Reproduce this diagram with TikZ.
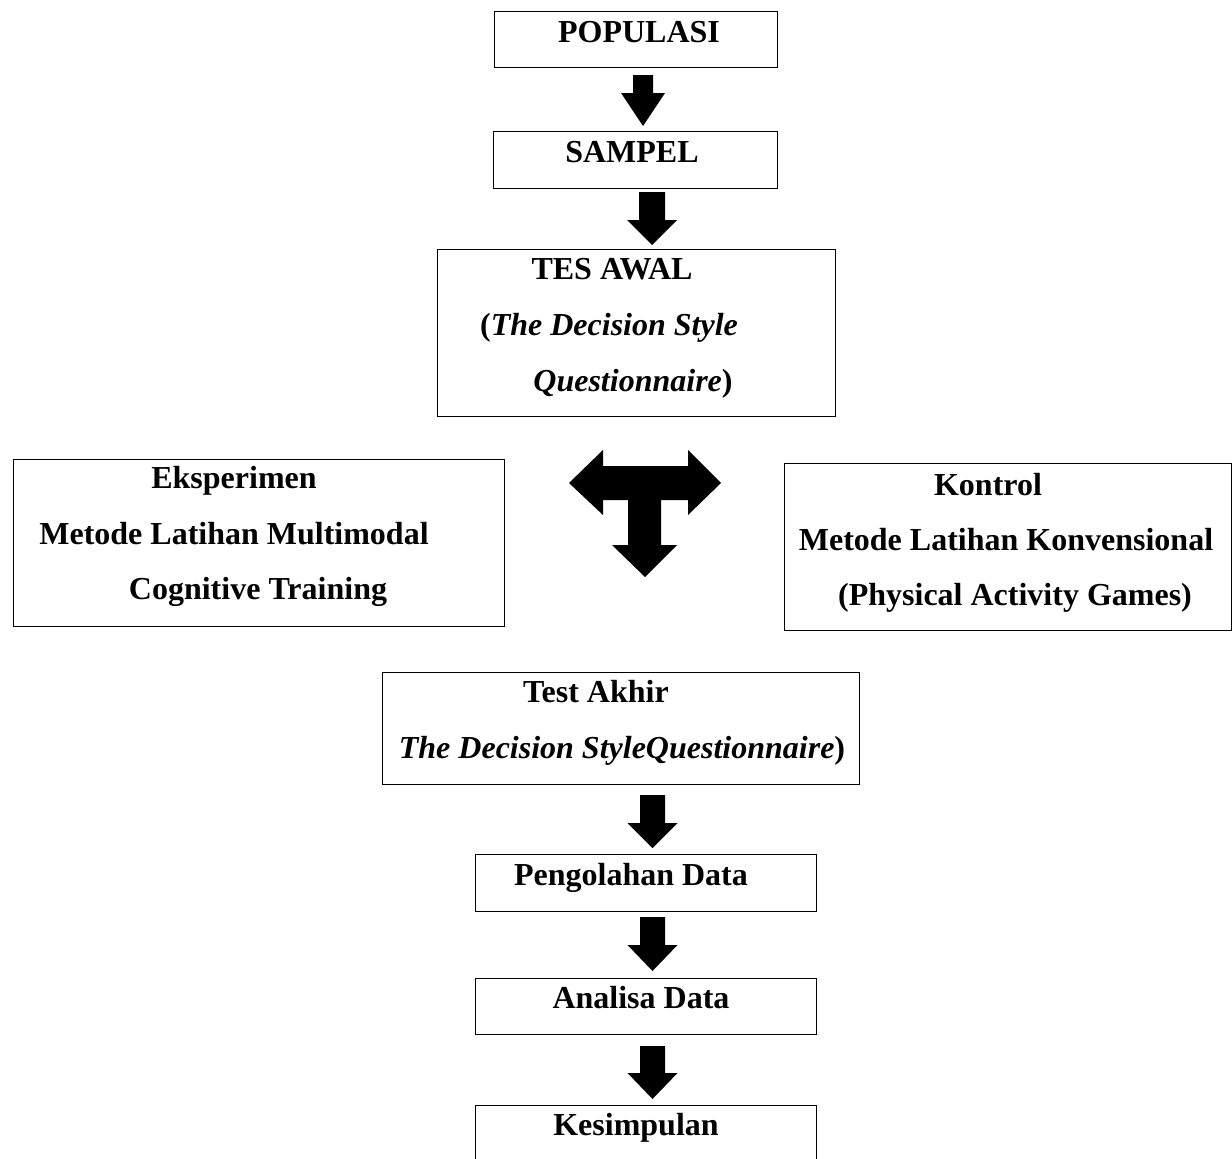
\documentclass[tikz,border=0pt]{standalone}
\usepackage{fontspec}
\setmainfont{Liberation Serif}
\newcommand\blockarr[6]{%
  \fill[black] (#1-#5,#2) -- (#1+#5,#2) -- (#1+#5,#3) -- (#1+#6,#3) -- (#1,#4)
    -- (#1-#6,#3) -- (#1-#5,#3) -- cycle;}
\tikzset{
  box/.style={draw=black, line width=0.9pt, rectangle, inner sep=0pt, anchor=north west},
  lbl/.style={anchor=base, inner sep=0pt, font=\fontsize{32}{38}\selectfont\bfseries},
}
\begin{document}
\begin{tikzpicture}[x=1pt,y=-1pt]
\clip (0,0) rectangle (1232,1159);
\fill[white] (0,0) rectangle (1232,1159);
% boxes
\node[box, minimum width=283pt, minimum height=56pt] (pop) at (494,11) {};
\node[box, minimum width=284pt, minimum height=57pt] (sam) at (493,131) {};
\node[box, minimum width=398pt, minimum height=167pt] (tes) at (437,249) {};
\node[box, minimum width=491pt, minimum height=167pt] (eks) at (13,459) {};
\node[box, minimum width=447pt, minimum height=167pt] (kon) at (784,463) {};
\node[box, minimum width=477pt, minimum height=112pt] (akh) at (382,672) {};
\node[box, minimum width=341pt, minimum height=57pt] (pen) at (475,854) {};
\node[box, minimum width=341pt, minimum height=56pt] (ana) at (475,978) {};
\node[box, minimum width=341pt, minimum height=70pt] (kes) at (475,1105) {};
% texts
\node[lbl] (tpop) at (639,42) {POPULASI};
\node[lbl] (tsam) at (632,162) {SAMPEL};
\node[lbl] (ttes1) at (612,279) {TES AWAL};
\node[lbl] (ttes2) at (609,335) {(\textit{The Decision Style}};
\node[lbl] (ttes3) at (633,391) {\textit{Questionnaire})};
\node[lbl] (teks1) at (234,488) {Eksperimen};
\node[lbl] (teks2) at (234,544) {Metode Latihan Multimodal};
\node[lbl] (teks3) at (258,599) {Cognitive Training};
\node[lbl] (tkon1) at (988,495) {Kontrol};
\node[lbl] (tkon2) at (1006,550) {Metode Latihan Konvensional};
\node[lbl] (tkon3) at (1015,605) {(Physical Activity Games)};
\node[lbl] (takh1) at (596,702) {Test Akhir};
\node[lbl] (takh2) at (622,758) {\textit{The Decision StyleQuestionnaire})};
\node[lbl] (tpen) at (631,885) {Pengolahan Data};
\node[lbl] (tana) at (641,1008) {Analisa Data};
\node[lbl] (tkes) at (636,1135) {Kesimpulan};
% block arrows
\blockarr{643}{75}{93}{126}{10}{22}
\blockarr{652}{192}{220}{245}{13}{25}
\blockarr{652.5}{795}{823}{848}{12.5}{25}
\blockarr{652.5}{917}{945}{971}{12.5}{25}
\blockarr{652.5}{1046}{1073}{1099}{12.5}{25}
% T-shaped three-way arrow
\fill[black] (569,483) -- (603,450) -- (603,466) -- (688,466) -- (688,450) -- (721,483)
  -- (688,515) -- (688,500) -- (661,500) -- (661,545) -- (677,545) -- (645,577)
  -- (612,545) -- (628,545) -- (628,500) -- (603,500) -- (603,515) -- cycle;
\end{tikzpicture}
\end{document}
